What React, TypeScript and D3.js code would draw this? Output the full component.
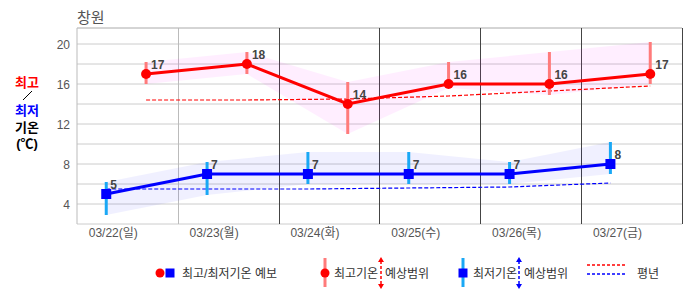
import React from "react";
import * as d3 from "d3";

const dates = ["03/22(일)", "03/23(월)", "03/24(화)", "03/25(수)", "03/26(목)", "03/27(금)"];
const highVals = [17, 18, 14, 16, 16, 17];
const highMax = [18.2, 19.2, 16.2, 18.2, 19.2, 20.2];
const highMin = [16, 17, 11, 15.6, 14.9, 16];
const highNormal = [14.4, 14.4, 14.5, 14.8, 15.3, 15.8];
const lowVals = [5, 7, 7, 7, 7, 8];
const lowMax = [6.2, 8.2, 9.2, 9.2, 8.2, 10.2];
const lowMin = [2.9, 4.9, 6, 6, 6, 7];
const lowNormal = [5.5, 5.5, 5.5, 5.6, 5.7, 6.1];
const yTicks = [4, 8, 12, 16, 20];
const yGrid = [4, 6, 8, 10, 12, 14, 16, 18, 20];

const W = 686, H = 295;
const L = 77, R = 682, T = 28, B = 224;
const FONT = "'Liberation Sans', Arial, 'Noto Sans CJK KR', sans-serif";

export default function App() {
  const x = d3.scaleBand<string>().domain(dates).range([L, R]);
  const bw = x.bandwidth();
  const y = d3.scaleLinear().domain([2, 21.6]).range([B, T]);
  const hx = (i: number) => (x(dates[i]) as number) + bw * 0.685;
  const lx = (i: number) => (x(dates[i]) as number) + bw * 0.29;
  const tx = (i: number) => (x(dates[i]) as number) + bw * 0.36;
  const idx = dates.map((_, i) => i);

  const area = (xf: (i: number) => number, hi: number[], lo: number[]) =>
    d3.area<number>().x((i) => xf(i)).y0((i) => y(lo[i])).y1((i) => y(hi[i]))(idx) || "";
  const line = (xf: (i: number) => number, v: number[]) =>
    d3.line<number>().x((i) => xf(i)).y((i) => y(v[i]))(idx) || "";

  const arrow = (cx: number, color: string) => (
    <g>
      <line x1={cx} x2={cx} y1={261} y2={285} stroke={color} strokeWidth={1.5} strokeDasharray="3,2" />
      <path d={`M${cx - 3},${262} L${cx},${257} L${cx + 3},${262} Z`} fill={color} />
      <path d={`M${cx - 3},${284} L${cx},${289} L${cx + 3},${284} Z`} fill={color} />
    </g>
  );

  return (
    <svg width={W} height={H} style={{ position: "absolute", left: 0, top: 0, background: "#fff" }} fontFamily={FONT}>
      <text x={77} y={23} fontSize={15} fill="#555">창원</text>
      {yGrid.map((v) => (
        <line key={v} x1={L} x2={R} y1={y(v)} y2={y(v)} stroke="#ccc" strokeWidth={1} />
      ))}
      <line x1={L} x2={R} y1={T} y2={T} stroke="#aaa" />
      <line x1={L} x2={R} y1={B} y2={B} stroke="#ccc" />
      <line x1={L} x2={L} y1={T} y2={B} stroke="#bbb" />
      {dates.map((d, i) => {
        const xv = Math.round((x(d) as number) + bw) + 0.5;
        return <line key={d} x1={xv} x2={xv} y1={T} y2={B} stroke={i === 0 ? "#bbb" : "#444"} strokeWidth={1} />;
      })}
      {yTicks.map((v) => (
        <text key={v} x={70} y={y(v) + 4.5} fontSize={12} fill="#555" textAnchor="end">{v}</text>
      ))}
      {dates.map((d, i) => (
        <text key={d} x={tx(i)} y={237} fontSize={12} fill="#555" textAnchor="middle">{d}</text>
      ))}
      <g fontWeight="bold" fontSize={13} textAnchor="middle">
        <text x={27} y={87} fill="#f00">최고</text>
        <line x1={23} y1={100} x2={32} y2={91} stroke="#000" strokeWidth={1} />
        <text x={27} y={115} fill="#00f">최저</text>
        <text x={27} y={132} fill="#000">기온</text>
        <text x={27} y={148} fill="#000">(℃)</text>
      </g>
      <path d={area(hx, highMax, highMin)} fill="#ff00ff" fillOpacity={0.065} />
      <path d={area(lx, lowMax, lowMin)} fill="#0000ff" fillOpacity={0.06} />
      <path d={line(hx, highNormal)} fill="none" stroke="#f00" strokeWidth={1.2} strokeDasharray="4,2" />
      <path d={line(lx, lowNormal)} fill="none" stroke="#00f" strokeWidth={1.2} strokeDasharray="4,2" />
      {idx.map((i) => (
        <line key={"hb" + i} x1={hx(i)} x2={hx(i)} y1={y(highMax[i])} y2={y(highMin[i])} stroke="#ff7b7b" strokeWidth={3} />
      ))}
      {idx.map((i) => (
        <line key={"lb" + i} x1={lx(i)} x2={lx(i)} y1={y(lowMax[i])} y2={y(lowMin[i])} stroke="#1aa8f5" strokeWidth={3} />
      ))}
      <path d={line(hx, highVals)} fill="none" stroke="#f00" strokeWidth={3} />
      <path d={line(lx, lowVals)} fill="none" stroke="#00f" strokeWidth={3} />
      {idx.map((i) => (
        <circle key={"hc" + i} cx={hx(i)} cy={y(highVals[i])} r={5} fill="#f00" />
      ))}
      {idx.map((i) => (
        <rect key={"lr" + i} x={lx(i) - 5} y={y(lowVals[i]) - 5} width={10} height={10} fill="#00f" />
      ))}
      <g fontWeight="bold" fontSize={12} fill="#444">
        {idx.map((i) => (
          <text key={"ht" + i} x={hx(i) + 5} y={y(highVals[i]) - 5}>{highVals[i]}</text>
        ))}
        {idx.map((i) => (
          <text key={"lt" + i} x={lx(i) + 4} y={y(lowVals[i]) - 5}>{lowVals[i]}</text>
        ))}
      </g>
      <g fontSize={12} fill="#333">
        <circle cx={160} cy={273} r={4.5} fill="#f00" />
        <rect x={165.5} y={268.5} width={9} height={9} fill="#00f" />
        <text x={182} y={277.5}>최고/최저기온 예보</text>

        <line x1={325} x2={325} y1={258} y2={287} stroke="#ff7b7b" strokeWidth={3} />
        <circle cx={325} cy={273} r={4.5} fill="#f00" />
        <text x={334} y={277.5}>최고기온</text>
        <text x={385} y={277.5}>예상범위</text>
        {arrow(381, "#f00")}

        <line x1={463} x2={463} y1={258} y2={287} stroke="#1aa8f5" strokeWidth={3} />
        <rect x={458.5} y={268.5} width={9} height={9} fill="#00f" />
        <text x={473} y={277.5}>최저기온</text>
        <text x={524} y={277.5}>예상범위</text>
        {arrow(519, "#00f")}

        <line x1={587} x2={625} y1={265} y2={265} stroke="#f00" strokeWidth={1.5} strokeDasharray="3,2" />
        <line x1={587} x2={625} y1={274} y2={274} stroke="#00f" strokeWidth={1.5} strokeDasharray="3,2" />
        <text x={637} y={277.5}>평년</text>
      </g>
    </svg>
  );
}
